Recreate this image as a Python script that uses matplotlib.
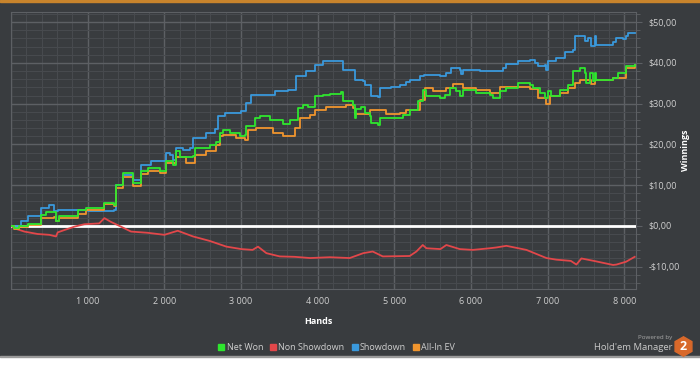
import numpy as np
import matplotlib
matplotlib.use("Agg")
import matplotlib.pyplot as plt
from matplotlib.ticker import MultipleLocator, FuncFormatter
from matplotlib.lines import Line2D
from matplotlib.patches import Rectangle

plt.rcParams['font.family'] = ['Open Sans', 'DejaVu Sans']

# data (hands, winnings in $)
net_hands = [0, 44, 109, 218, 391, 457, 566, 587, 631, 718, 870, 978, 1196, 1218, 1348, 1370, 1457,
             1565, 1587, 1674, 1696, 1783, 1939, 2026, 2113, 2157, 2200, 2374, 2396, 2504, 2591, 2678,
             2722, 2765, 2852, 2982, 3048, 3070, 3178, 3243, 3374, 3547, 3634, 3743, 3808, 3873, 3960,
             4069, 4156, 4308, 4330, 4460, 4482, 4504, 4569, 4612, 4677, 4699, 4786, 4808, 5025, 5112,
             5199, 5307, 5373, 5417, 5590, 5655, 5721, 5808, 5851, 5895, 6069, 6242, 6286, 6373, 6460,
             6611, 6764, 6807, 6894, 6959, 7003, 7047, 7156, 7264, 7329, 7416, 7481, 7503, 7547, 7590,
             7612, 7634, 7851, 7916, 8003, 8025, 8133]
net_won = [0, -0.6, 0, 0.4, 2.7, 3.4, 3.5, 1.1, 2.4, 2.4, 3.9, 4.3, 4.3, 5.6, 5.0, 10, 13,
           13, 10.5, 10.5, 13.4, 14.2, 13.4, 15.8, 15.0, 18.3, 16.9, 17.2, 19.1, 19.1, 19.9, 20.7,
           22.8, 23.6, 22.8, 22.0, 22.4, 24.4, 26.5, 26.9, 26.1, 25.0, 26.1, 28.9, 29.7, 29.3, 31.8,
           32.2, 32.4, 32.9, 30.7, 29.7, 26.5, 28.7, 29.1, 27.6, 27.0, 25.2, 24.7, 26.6, 26.5, 27.1,
           28.5, 30.6, 33.4, 31.8, 31.4, 32.1, 33.8, 33.0, 31.8, 33.4, 32.6, 32.2, 31.4, 33.0, 33.8,
           35.1, 34.6, 33.8, 32.6, 31.4, 33.0, 31.8, 33.4, 34.6, 37.9, 38.7, 37.5, 35.1, 37.5, 35.5,
           37.5, 35.9, 36.3, 37.5, 37.5, 39.2, 39.6]

ev_hands = [0, 44, 109, 218, 391, 566, 587, 631, 870, 978, 1218, 1348, 1370, 1457, 1565, 1587,
            1696, 1783, 1939, 2026, 2157, 2287, 2396, 2548, 2678, 2722, 2765, 2939, 3048, 3091, 3200,
            3417, 3547, 3700, 3765, 3895, 3960, 4113, 4199, 4373, 4460, 4482, 4677, 4895, 5069, 5156,
            5330, 5395, 5503, 5678, 5764, 5895, 6069, 6242, 6373, 6611, 6764, 6872, 6982, 7025, 7156,
            7264, 7351, 7416, 7569, 7612, 7851, 8025, 8133]
all_in_ev = [0, -0.8, -0.4, 0.2, 1.9, 2.2, 1.1, 2.0, 3.0, 4.0, 5.3, 4.8, 9.3, 12.1, 12.1, 9.7,
             12.8, 13.4, 12.9, 15.4, 17.0, 15.4, 17.4, 18.3, 19.9, 22.0, 22.4, 21.5, 21.1, 23.6, 24.0,
             22.8, 22.0, 24.0, 26.5, 27.3, 28.5, 29.3, 29.1, 29.6, 28.9, 27.5, 28.5, 27.4, 27.6, 28.5,
             30.8, 33.8, 33.0, 33.8, 34.8, 33.8, 33.4, 32.6, 34.2, 34.2, 33.6, 31.4, 29.9, 31.8, 32.6,
             33.8, 35.1, 35.9, 34.8, 35.9, 36.3, 38.8, 39.6]

sd_hands = [0, 44, 130, 218, 391, 500, 566, 609, 978, 1000, 1261, 1348, 1370, 1457, 1544, 1587,
            1696, 1826, 2000, 2026, 2070, 2113, 2157, 2243, 2330, 2374, 2548, 2657, 2700, 2787, 3004,
            3070, 3135, 3300, 3439, 3612, 3722, 3852, 3960, 4069, 4308, 4330, 4460, 4482, 4590, 4612,
            4677, 4699, 4786, 4808, 4960, 5069, 5156, 5199, 5330, 5390, 5590, 5678, 5743, 5850, 5873,
            5895, 6025, 6112, 6286, 6416, 6460, 6611, 6764, 6829, 6872, 6960, 6982, 7003, 7112, 7220,
            7329, 7351, 7460, 7481, 7525, 7569, 7612, 7634, 7851, 7894, 7980, 8025, 8047, 8133]
showdown = [0, 0, 1.1, 2.4, 4.3, 5.2, 3.6, 4.0, 3.9, 3.6, 3.6, 3.9, 10, 12.5, 12.5, 11.3,
            15.0, 15.8, 15.8, 17.9, 17.5, 16.2, 19.1, 18.6, 19.1, 21.5, 22.8, 23.8, 26.9, 27.7, 28.1,
            30.1, 32.2, 32.2, 33.0, 33.4, 36.7, 37.9, 39.6, 40.4, 40.4, 38.3, 38.3, 35.9, 35.5, 34.6,
            34.6, 31.8, 31.6, 33.8, 34.2, 34.6, 35.4, 35.9, 36.7, 37.1, 36.7, 37.5, 38.7, 38.3, 37.3,
            38.3, 38.3, 38.1, 38.1, 38.8, 39.7, 40.4, 40.6, 40.0, 39.2, 39.6, 38.3, 40.5, 41.2, 42.8,
            43.2, 46.5, 46.5, 45.3, 46.1, 44.1, 46.5, 44.3, 45.1, 46.1, 45.9, 46.5, 47.3, 47.3]

nsd_hands = [0, 44, 174, 348, 500, 587, 609, 700, 826, 957, 1150, 1218, 1300, 1435, 1565, 1780,
             2000, 2174, 2374, 2591, 2809, 3004, 3150, 3221, 3330, 3504, 3700, 3900, 4156, 4417,
             4594, 4717, 4848, 5199, 5286, 5369, 5417, 5600, 5677, 5851, 6021, 6242, 6330, 6460,
             6721, 6982, 7112, 7300, 7373, 7438, 7600, 7851, 7895, 8021, 8133]
non_showdown = [0, -0.6, -1.4, -2.0, -2.2, -2.6, -1.6, -1.0, -0.2, 0.4, 0.6, 1.9, 1.0, -0.2, -1.4, -1.7,
                -2.2, -1.2, -2.6, -3.7, -5.1, -5.7, -5.9, -5.1, -6.7, -7.5, -7.6, -7.9, -7.7, -7.9,
                -6.7, -6.3, -7.5, -7.4, -6.3, -4.7, -5.5, -5.7, -4.7, -5.7, -5.9, -5.5, -5.3, -4.9,
                -5.9, -7.9, -8.3, -8.6, -9.5, -8.0, -8.6, -9.6, -9.5, -8.8, -7.6]

bg = '#393c3f'
txt = '#cfcfcf'
c_green = '#2ee62e'
c_red = '#e2474a'
c_blue = '#3a99dc'
c_orange = '#f0952e'

fig = plt.figure(figsize=(7, 3.7), dpi=100)
fig.patch.set_facecolor(bg)
ax = fig.add_axes([11 / 700, 1 - 289 / 370, 625 / 700, 277 / 370])
ax.set_facecolor(bg)

ax.set_xlim(0, 8150)
ax.set_ylim(-15.5, 52.5)

ax.xaxis.set_major_locator(MultipleLocator(1000))
ax.xaxis.set_minor_locator(MultipleLocator(200))
ax.yaxis.set_major_locator(MultipleLocator(10))
ax.yaxis.set_minor_locator(MultipleLocator(2))
ax.grid(which='major', color='#5d6064', lw=1.0)
ax.grid(which='minor', color='#474a4e', lw=0.8)
ax.set_axisbelow(True)

ax.xaxis.set_major_formatter(FuncFormatter(lambda v, p: '{:,}'.format(int(v)).replace(',', ' ') if v > 0 else ''))
ax.yaxis.set_major_formatter(FuncFormatter(lambda v, p: ('-$' if v < 0 else '$') + '{:.2f}'.format(abs(v)).replace('.', ',')))
ax.yaxis.tick_right()
ax.tick_params(axis='both', which='both', colors='#5d6064', labelcolor=txt, labelsize=6.5)
ax.tick_params(axis='x', which='both', length=0, pad=6)
ax.tick_params(axis='y', which='major', length=4, pad=5)
ax.tick_params(axis='y', which='minor', length=3)
for s in ax.spines.values():
    s.set_color('#5d6064')

ax.axhline(0, color='white', lw=2, zorder=3)

lw = 1.3
ax.plot(nsd_hands, non_showdown, color=c_red, lw=lw, zorder=4)
ax.plot(sd_hands, showdown, color=c_blue, lw=lw, drawstyle='steps-post', zorder=4)
ax.plot(ev_hands, all_in_ev, color=c_orange, lw=lw, drawstyle='steps-post', zorder=5)
ax.plot(net_hands, net_won, color=c_green, lw=lw, drawstyle='steps-post', zorder=6)

ax.set_xlabel('Hands', color='white', fontsize=6.5, fontweight='bold')
ax.xaxis.set_label_coords((318 - 11) / 625, -(317 - 289) / 277)
ax.yaxis.set_label_position('right')
ax.set_ylabel('Winnings', color='white', fontsize=6.5, fontweight='bold')
ax.yaxis.set_label_coords((681 - 11) / 625, (289 - 150) / 277)

handles = [Line2D([], [], ls='', marker='s', markersize=4, color=c) for c in (c_green, c_red, c_blue, c_orange)]
leg = fig.legend(handles, ['Net Won', 'Non Showdown', 'Showdown', 'All-In EV'], loc='center',
                 bbox_to_anchor=(336 / 700, 1 - 348 / 370), ncol=4, frameon=False, fontsize=6.5,
                 handletextpad=0.1, columnspacing=0.6, handlelength=1.0)
for t in leg.get_texts():
    t.set_color(txt)

# logo
fig.text(672 / 700, 1 - 338 / 370, 'Powered by', color='#a8a8a8', fontsize=4.5, ha='right', va='center')
fig.text(672 / 700, 1 - 347 / 370, "Hold'em Manager", color='#c8c8c8', fontsize=6.8, ha='right', va='center')
fig.add_artist(Line2D([683 / 700], [1 - 346 / 370], marker='h', markersize=14, color='#d8682a',
                      transform=fig.transFigure))
fig.text(683 / 700, 1 - 346 / 370, '2', color='white', fontsize=9, fontweight='bold', ha='center', va='center')

# frame strips
fig.add_artist(Rectangle((0, 1 - 2 / 370), 1, 2 / 370, color='#c8842c', transform=fig.transFigure))
fig.add_artist(Rectangle((0, 0), 1, 13 / 370, color='white', transform=fig.transFigure))
fig.add_artist(Rectangle((0, 13 / 370), 1, 1 / 370, color='#9a9a9a', transform=fig.transFigure))

fig.savefig('out.png', dpi=100, facecolor=bg)
